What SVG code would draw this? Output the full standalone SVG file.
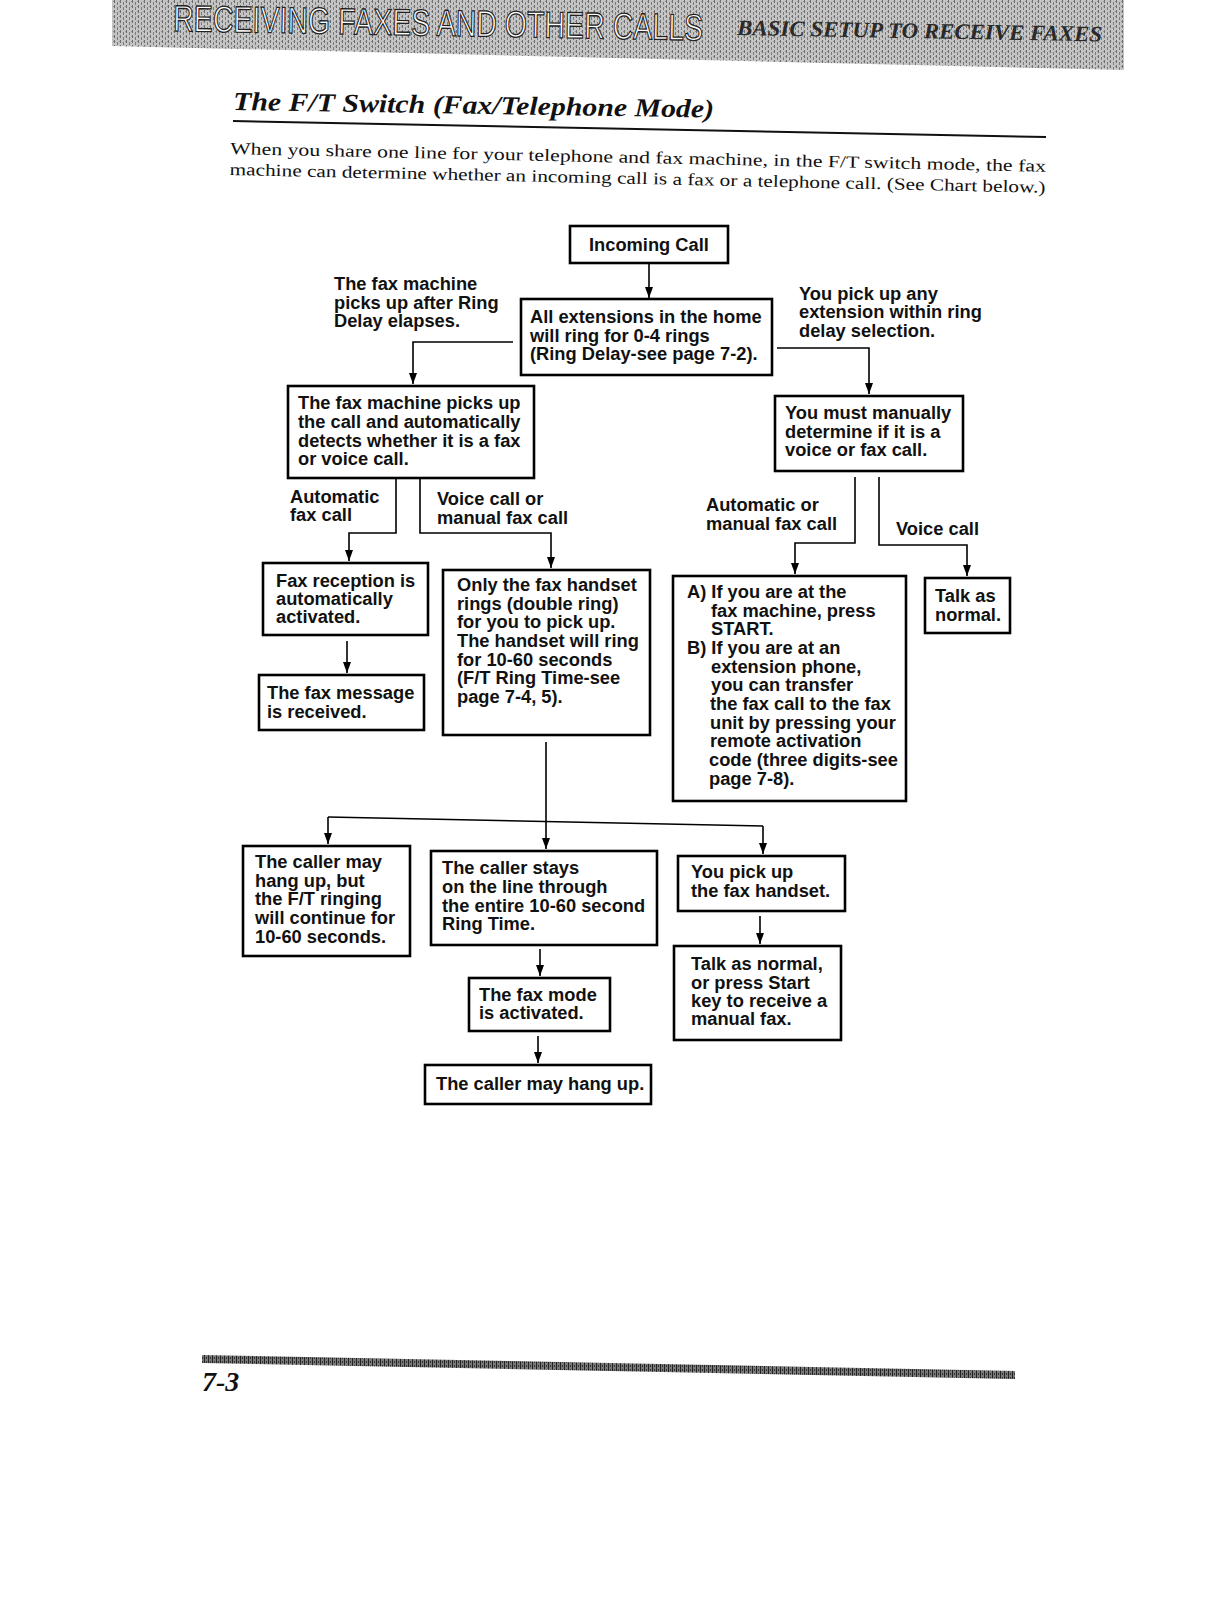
<svg xmlns="http://www.w3.org/2000/svg" width="1214" height="1600" viewBox="0 0 1214 1600">
<defs>
<pattern id="stip" width="6" height="5" patternUnits="userSpaceOnUse">
<rect width="6" height="5" fill="#c4c4c4"/>
<rect x="0" y="0" width="1" height="3" fill="#6e6e6e"/>
<rect x="3" y="2" width="1" height="3" fill="#7a7a7a"/>
<rect x="5" y="1" width="1" height="1" fill="#909090"/>
</pattern>
<pattern id="stip2" width="4" height="4" patternUnits="userSpaceOnUse">
<rect width="4" height="4" fill="#7a7a7a"/>
<rect x="0" y="0" width="1" height="4" fill="#222"/>
<rect x="2" y="1" width="1" height="2" fill="#333"/>
</pattern>
<marker id="ah" markerUnits="userSpaceOnUse" markerWidth="11" markerHeight="8" refX="11" refY="4" orient="auto">
<path d="M0,0 L11,4 L0,8 Z" fill="#000"/>
</marker>
<style>
.box{fill:#fff;stroke:#000;stroke-width:2.6}
.t{font-family:"Liberation Sans",Arial,sans-serif;font-weight:bold;font-size:18.3px;fill:#111}
.c{fill:none;stroke:#000;stroke-width:1.6}
.a{marker-end:url(#ah)}
.serif{font-family:"Liberation Serif","Times New Roman",serif}
</style>
</defs>
<rect width="1214" height="1600" fill="#fff"/>

<!-- header band -->
<polygon points="112,0 1124,0 1124,70 112,46" fill="url(#stip)"/>
<text x="173" y="31" transform="rotate(1 173 31)" font-family="'Liberation Sans',Arial,sans-serif" font-size="37" fill="#fff" stroke="#222" stroke-width="1.3" textLength="530" lengthAdjust="spacingAndGlyphs">RECEIVING FAXES AND OTHER CALLS</text>
<text x="737" y="35" transform="rotate(1 737 35)" class="serif" font-size="22" font-weight="bold" font-style="italic" fill="#2a2a2a" textLength="365" lengthAdjust="spacingAndGlyphs">BASIC SETUP TO RECEIVE FAXES</text>

<!-- title -->
<text x="233" y="110" transform="rotate(0.9 233 110)" class="serif" font-size="26" font-weight="bold" font-style="italic" fill="#111" textLength="481" lengthAdjust="spacingAndGlyphs">The F/T Switch (Fax/Telephone Mode)</text>
<line x1="233" y1="121" x2="1046" y2="137" stroke="#111" stroke-width="2"/>

<!-- paragraph -->
<g transform="rotate(1.25 230 154)" class="serif" font-size="17" fill="#111">
<text x="230" y="154" textLength="816" lengthAdjust="spacingAndGlyphs">When you share one line for your telephone and fax machine, in the F/T switch mode, the fax</text>
<text x="230" y="175" textLength="816" lengthAdjust="spacingAndGlyphs">machine can determine whether an incoming call is a fax or a telephone call. (See Chart below.)</text>
</g>

<!-- connectors -->
<g id="connectors">
<path class="c a" d="M649,263 V298"/>
<path class="c a" d="M513,342 H413 V384"/>
<path class="c a" d="M777,348 H869 V394"/>
<path class="c a" d="M396,479 V533 H349 V561"/>
<path class="c a" d="M420,479 V533 H551 V568"/>
<path class="c a" d="M347,641 V673"/>
<path class="c a" d="M855,477 V543 H795 V574"/>
<path class="c a" d="M879,477 V545 H967 V576"/>
<path class="c a" d="M546,742 V849"/>
<path class="c" d="M328,817 L763,826"/>
<path class="c a" d="M328,817 V844"/>
<path class="c a" d="M763,826 V854"/>
<path class="c a" d="M540,949 V976"/>
<path class="c a" d="M538,1036 V1063"/>
<path class="c a" d="M760,916 V944"/>
</g>

<!-- free labels -->
<g id="label-ringdelay" class="t">
<text x="334" y="290">The fax machine</text>
<text x="334" y="309">picks up after Ring</text>
<text x="334" y="327">Delay elapses.</text>
</g>
<g id="label-pickup" class="t">
<text x="799" y="300">You pick up any</text>
<text x="799" y="318">extension within ring</text>
<text x="799" y="337">delay selection.</text>
</g>
<g id="label-autofax" class="t">
<text x="290" y="503">Automatic</text>
<text x="290" y="521">fax call</text>
</g>
<g id="label-voicemanual" class="t">
<text x="437" y="505">Voice call or</text>
<text x="437" y="524">manual fax call</text>
</g>
<g id="label-automanual" class="t">
<text x="706" y="511">Automatic or</text>
<text x="706" y="530">manual fax call</text>
</g>
<g id="label-voice" class="t">
<text x="896" y="535">Voice call</text>
</g>

<!-- nodes -->
<g id="n-incoming">
<rect class="box" x="570" y="226" width="158" height="37"/>
<text class="t" x="589" y="251">Incoming Call</text>
</g>
<g id="n-allext">
<rect class="box" x="521" y="299" width="251" height="76"/>
<text class="t" x="530" y="323">All extensions in the home</text>
<text class="t" x="530" y="342">will ring for 0-4 rings</text>
<text class="t" x="530" y="360">(Ring Delay-see page 7-2).</text>
</g>
<g id="n-faxpicks">
<rect class="box" x="288" y="386" width="246" height="92"/>
<text class="t" x="298" y="409">The fax machine picks up</text>
<text class="t" x="298" y="428">the call and automatically</text>
<text class="t" x="298" y="447">detects whether it is a fax</text>
<text class="t" x="298" y="465">or voice call.</text>
</g>
<g id="n-manual">
<rect class="box" x="775" y="396" width="188" height="75"/>
<text class="t" x="785" y="419">You must manually</text>
<text class="t" x="785" y="438">determine if it is a</text>
<text class="t" x="785" y="456">voice or fax call.</text>
</g>
<g id="n-faxrecept">
<rect class="box" x="263" y="563" width="165" height="72"/>
<text class="t" x="276" y="587">Fax reception is</text>
<text class="t" x="276" y="605">automatically</text>
<text class="t" x="276" y="623">activated.</text>
</g>
<g id="n-faxmsg">
<rect class="box" x="259" y="675" width="165" height="55"/>
<text class="t" x="267" y="699">The fax message</text>
<text class="t" x="267" y="718">is received.</text>
</g>
<g id="n-handset">
<rect class="box" x="443" y="570" width="207" height="165"/>
<text class="t" x="457" y="591">Only the fax handset</text>
<text class="t" x="457" y="610">rings (double ring)</text>
<text class="t" x="457" y="628">for you to pick up.</text>
<text class="t" x="457" y="647">The handset will ring</text>
<text class="t" x="457" y="666">for 10-60 seconds</text>
<text class="t" x="457" y="684">(F/T Ring Time-see</text>
<text class="t" x="457" y="703">page 7-4, 5).</text>
</g>
<g id="n-ab">
<rect class="box" x="673" y="576" width="233" height="225"/>
<text class="t" x="687" y="598">A) If you are at the</text>
<text class="t" x="711" y="617">fax machine, press</text>
<text class="t" x="711" y="635">START.</text>
<text class="t" x="687" y="654">B) If you are at an</text>
<text class="t" x="711" y="673">extension phone,</text>
<text class="t" x="711" y="691">you can transfer</text>
<text class="t" x="710" y="710">the fax call to the fax</text>
<text class="t" x="710" y="729">unit by pressing your</text>
<text class="t" x="710" y="747">remote activation</text>
<text class="t" x="709" y="766">code (three digits-see</text>
<text class="t" x="709" y="785">page 7-8).</text>
</g>
<g id="n-talk">
<rect class="box" x="925" y="578" width="85" height="55"/>
<text class="t" x="935" y="602">Talk as</text>
<text class="t" x="935" y="621">normal.</text>
</g>
<g id="n-hangup-but">
<rect class="box" x="243" y="846" width="167" height="110"/>
<text class="t" x="255" y="868">The caller may</text>
<text class="t" x="255" y="887">hang up, but</text>
<text class="t" x="255" y="905">the F/T ringing</text>
<text class="t" x="255" y="924">will continue for</text>
<text class="t" x="255" y="943">10-60 seconds.</text>
</g>
<g id="n-stays">
<rect class="box" x="431" y="851" width="226" height="94"/>
<text class="t" x="442" y="874">The caller stays</text>
<text class="t" x="442" y="893">on the line through</text>
<text class="t" x="442" y="912">the entire 10-60 second</text>
<text class="t" x="442" y="930">Ring Time.</text>
</g>
<g id="n-youpick">
<rect class="box" x="678" y="856" width="167" height="55"/>
<text class="t" x="691" y="878">You pick up</text>
<text class="t" x="691" y="897">the fax handset.</text>
</g>
<g id="n-faxmode">
<rect class="box" x="469" y="978" width="141" height="53"/>
<text class="t" x="479" y="1001">The fax mode</text>
<text class="t" x="479" y="1019">is activated.</text>
</g>
<g id="n-talkstart">
<rect class="box" x="674" y="946" width="167" height="94"/>
<text class="t" x="691" y="970">Talk as normal,</text>
<text class="t" x="691" y="989">or press Start</text>
<text class="t" x="691" y="1007">key to receive a</text>
<text class="t" x="691" y="1025">manual fax.</text>
</g>
<g id="n-hangup">
<rect class="box" x="425" y="1065" width="226" height="39"/>
<text class="t" x="436" y="1090">The caller may hang up.</text>
</g>

<!-- footer -->
<polygon points="202,1355 1015,1371 1015,1379 202,1363" fill="url(#stip2)"/>
<text x="202" y="1391" class="serif" font-size="28" font-weight="bold" font-style="italic" fill="#111">7-3</text>
</svg>
